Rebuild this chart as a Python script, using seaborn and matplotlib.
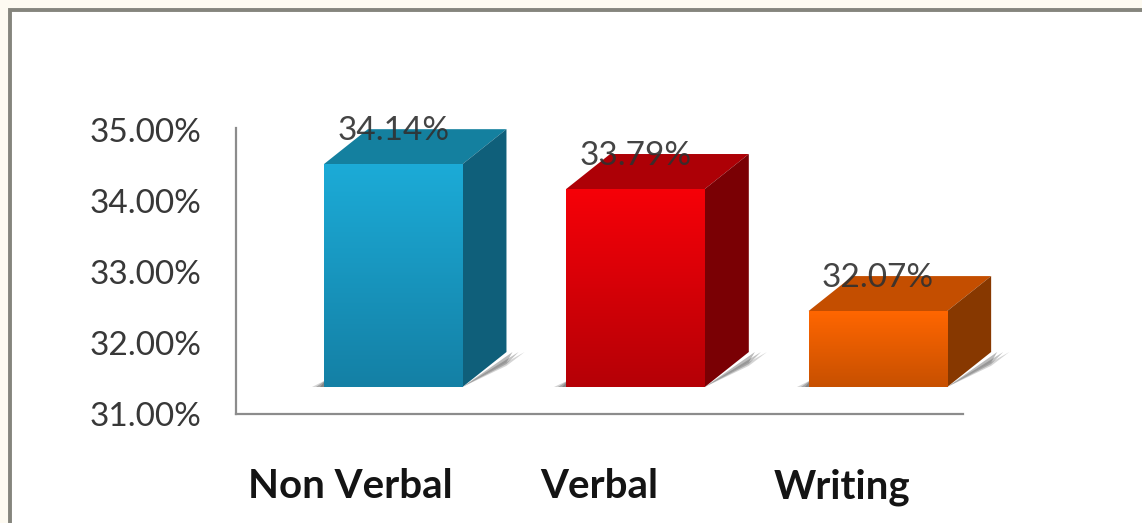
import numpy as np
import matplotlib
matplotlib.use('Agg')
import matplotlib.pyplot as plt
import seaborn as sns
from matplotlib.colors import LinearSegmentedColormap
from matplotlib.patches import Polygon, Rectangle

categories = ['Non Verbal', 'Verbal', 'Writing']
values = [34.14, 33.79, 32.07]
value_labels = ['34.14%', '33.79%', '32.07%']
y_ticks = [31, 32, 33, 34, 35]
y_tick_labels = ['31.00%', '32.00%', '33.00%', '34.00%', '35.00%']

front_top = ['#1cabd7', '#f60008', '#ff6600']
front_bottom = ['#1480a5', '#b50006', '#c75000']
top_face = ['#14809f', '#ad0006', '#c44e00']
side_face = ['#0f5f7a', '#7a0004', '#873800']

W, H = 1142, 523

sns.set_theme(style='white')
plt.rcParams['font.family'] = ['Lato', 'DejaVu Sans']

fig = plt.figure(figsize=(W / 100, H / 100), dpi=100, facecolor='#fdfaf1')

# fond blanc et cadre gris (haut + gauche seulement visibles)
fig.add_artist(Rectangle((10 / W, -20 / H), (W + 20) / W, (H + 10) / H, transform=fig.transFigure,
                         facecolor='white', edgecolor='#85857d', linewidth=2.8, zorder=-1))


def px_axes(left, bottom_y, right, top_y):
    return fig.add_axes([left / W, 1 - bottom_y / H, (right - left) / W, (bottom_y - top_y) / H])


# axe visible
ax = px_axes(236, 414, 963, 128)
ax.patch.set_alpha(0)
ax.set_xlim(-0.5, 2.5)
ax.set_ylim(31, 35.03)
ax.set_yticks(y_ticks)
ax.set_yticklabels(y_tick_labels, fontsize=24, color='#383838')
ax.set_xticks([-0.03, 1, 2])
ax.set_xticklabels(categories, fontsize=29, fontweight='bold', color='#141414')
ax.tick_params(axis='y', length=0, pad=25)
ax.tick_params(axis='x', length=0, pad=39)
sns.despine(ax=ax)
for side in ['left', 'bottom']:
    ax.spines[side].set_color('#8c8c8c')
    ax.spines[side].set_linewidth(1.6)

# axe des barres, decale pour le faux 3D
ax_bars = px_axes(272, 387, 999, 101)
ax_bars.patch.set_alpha(0)
sns.barplot(x=categories, y=values, hue=categories, palette=front_top, legend=False,
            saturation=1, width=0.572, linewidth=0, ax=ax_bars, zorder=3)
ax_bars.set_xlim(-0.5, 2.5)
ax_bars.set_ylim(31, 35.03)
ax_bars.axis('off')

depth_x = 44 / (727 / 3)
depth_y = 35 / 71
base = 31

for i, container in enumerate(ax_bars.containers):
    bar = container[0]
    x0, x1 = bar.get_x(), bar.get_x() + bar.get_width()
    top = bar.get_height()

    # ombre au sol
    for grow, alpha in [(0.075, 0.25), (0.05, 0.35), (0.025, 0.4)]:
        ax_bars.add_patch(Polygon([(x1, base), (x1 + depth_x + grow, base + depth_y),
                                   (x1 + depth_x, base + depth_y - 0.12 - grow)],
                                  closed=True, facecolor='#555555', edgecolor='none', alpha=alpha,
                                  clip_on=False, zorder=1))
        ax_bars.add_patch(Polygon([(x0 - grow * 0.65, base), (x0 + 0.01, base), (x0 + 0.01, base + 0.1)],
                                  closed=True, facecolor='#555555', edgecolor='none', alpha=alpha,
                                  clip_on=False, zorder=1))

    # faces haut et cote
    ax_bars.add_patch(Polygon([(x0, top), (x1, top), (x1 + depth_x, top + depth_y), (x0 + depth_x, top + depth_y)],
                              closed=True, facecolor=top_face[i], edgecolor='none', clip_on=False, zorder=2))
    ax_bars.add_patch(Polygon([(x1, base), (x1 + depth_x, base + depth_y), (x1 + depth_x, top + depth_y), (x1, top)],
                              closed=True, facecolor=side_face[i], edgecolor='none', clip_on=False, zorder=2))

    # degrade de la face avant
    cmap = LinearSegmentedColormap.from_list('face', [front_top[i], front_bottom[i]])
    ax_bars.imshow(np.linspace(0, 1, 128).reshape(-1, 1), cmap=cmap, aspect='auto',
                   extent=(x0, x1, base, top), origin='upper', zorder=4)

    lbls = ax_bars.bar_label(container, labels=[value_labels[i]], padding=24, fontsize=24,
                             color='#303030', alpha=0.9, zorder=6, clip_on=False)
    for t in lbls:
        t.set_va('center')

ax_bars.set_xlim(-0.5, 2.5)
ax_bars.set_ylim(31, 35.03)

fig.savefig('out.png', dpi=100, facecolor=fig.get_facecolor())
